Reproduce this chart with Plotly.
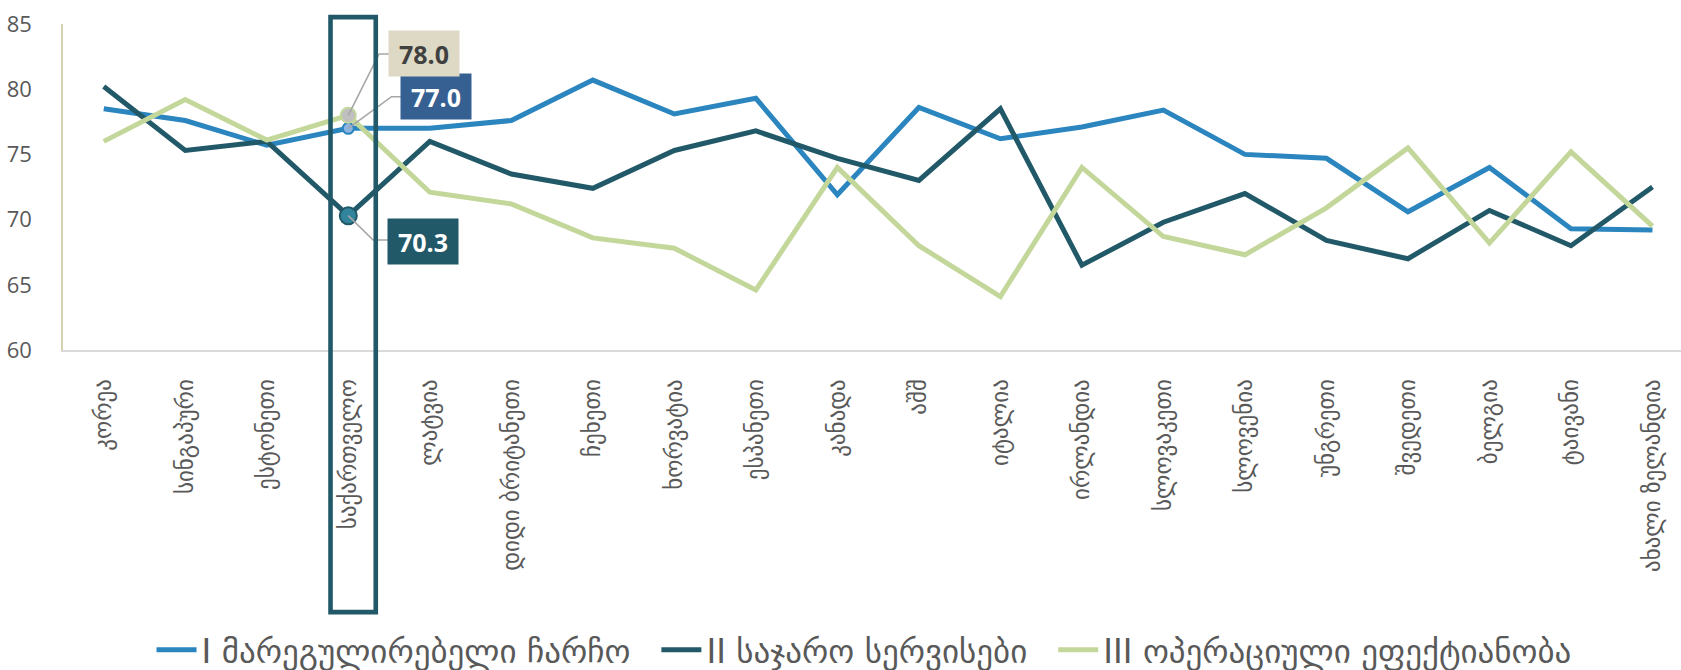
import plotly.graph_objects as go

# ---- data ----
categories = ["კორეა", "სინგაპური", "ესტონეთი", "საქართველო", "ლატვია",
              "დიდი ბრიტანეთი", "ჩეხეთი", "ხორვატია", "ესპანეთი", "კანადა",
              "აშშ", "იტალია", "ირლანდია", "სლოვაკეთი", "სლოვენია",
              "უნგრეთი", "შვედეთი", "ბელგია", "ტაივანი", "ახალი ზელანდია"]

series_names = ["I მარეგულირებელი ჩარჩო", "II საჯარო სერვისები", "III ოპერაციული ეფექტიანობა"]

regulatory = [78.5, 77.6, 75.7, 77.0, 77.0, 77.6, 80.7, 78.1, 79.3, 71.9,
              78.6, 76.2, 77.1, 78.4, 75.0, 74.7, 70.6, 74.0, 69.3, 69.2]
public_services = [80.2, 75.3, 76.0, 70.3, 76.0, 73.5, 72.4, 75.3, 76.8, 74.7,
                   73.0, 78.5, 66.5, 69.8, 72.0, 68.4, 67.0, 70.7, 68.0, 72.5]
operational = [76.0, 79.2, 76.1, 78.0, 72.1, 71.2, 68.6, 67.8, 64.6, 74.0,
               68.0, 64.1, 74.0, 68.7, 67.3, 70.9, 75.5, 68.2, 75.2, 69.5]

y_ticks = [60, 65, 70, 75, 80, 85]
highlight_index = 3

# ---- style ----
line_colors = ["#2B85BE", "#215968", "#C4D79B"]
marker_fill = ["#8DB4E2", "#31849B", "#BFBFBF"]
marker_size = [11, 17, 15]
label_bg = ["#376092", "#215968", "#DDD9C4"]
label_fg = ["#FFFFFF", "#FFFFFF", "#404040"]
# pixel offsets of label box centre from the point, and leader path (x right, y up)
label_shift = [(88.2, 31.6), (74.8, -26.3), (76.2, 61.5)]
leader = [[(0, 0), (43.2, 31.6), (55, 31.6)],
          [(0, 0), (24.8, -24.3), (42, -24.3)],
          [(0, 0), (30.8, 61.3), (42.5, 61.3)]]
legend_pad = "\u00a0\u00a0"

W, H = 1681, 670
ML, MR, MT, MB = 63, 0, 24, 320
x_min = -0.5
x_max = 19.35

fonts = "Open Sans, DejaVu Sans, sans-serif"
geo_font = "DejaVu Sans, Open Sans, sans-serif"
tick_color = "#595959"

fig = go.Figure()
all_series = [regulatory, public_services, operational]
for k, (name, vals, col) in enumerate(zip(series_names, all_series, line_colors)):
    label = name + (legend_pad if k < len(series_names) - 1 else "")
    fig.add_trace(go.Scatter(x=categories, y=vals, name=label, mode="lines",
                             line=dict(color=col, width=5)))

# highlighted markers
for i, (vals, col) in enumerate(zip(all_series, line_colors)):
    fig.add_trace(go.Scatter(x=[categories[highlight_index]], y=[vals[highlight_index]],
                             mode="markers", showlegend=False, hoverinfo="skip",
                             marker=dict(size=marker_size[i], color=marker_fill[i],
                                         line=dict(color=col, width=2))))

annotations = []
shapes = []
for i, vals in enumerate(all_series):
    v = vals[highlight_index]
    dx, dy = label_shift[i]
    annotations.append(dict(x=categories[highlight_index], y=v, xref="x", yref="y",
                            text=f"<b>{v:.1f}</b>", showarrow=False,
                            xshift=dx, yshift=dy, width=68, height=43,
                            bgcolor=label_bg[i],
                            font=dict(family="Open Sans", size=25, color=label_fg[i])))
    path = "M" + " L".join(f"{px},{py}" for px, py in leader[i])
    shapes.append(dict(type="path", path=path, xref="x", yref="y",
                       xsizemode="pixel", ysizemode="pixel",
                       xanchor=highlight_index, yanchor=v,
                       line=dict(color="#A6A6A6", width=1.6), layer="above"))

# highlight rectangle around the selected category (paper coords from axis mapping)
def cat_to_paper(c):
    return (c - x_min) / (x_max - x_min)

shapes.append(dict(type="rect", xref="paper", yref="paper",
                   x0=cat_to_paper(highlight_index - 0.218),
                   x1=cat_to_paper(highlight_index + 0.337),
                   y0=-0.804, y1=1.021,
                   line=dict(color="#215968", width=4.6), fillcolor="rgba(0,0,0,0)",
                   layer="above"))

fig.update_layout(
    width=W, height=H,
    margin=dict(l=ML, r=MR, t=MT, b=MB, pad=0, autoexpand=False),
    paper_bgcolor="white", plot_bgcolor="white",
    font=dict(family=fonts, color=tick_color),
    showlegend=True,
    legend=dict(orientation="h", xref="container", yref="container",
                x=0.514, xanchor="center", y=0.03, yanchor="middle",
                font=dict(family=geo_font, size=33, color=tick_color),
                itemwidth=40, bgcolor="rgba(0,0,0,0)"),
    annotations=annotations,
    shapes=shapes,
    xaxis=dict(type="category", range=[x_min, x_max], showgrid=False,
               showline=True, linecolor="#D9D9D9", linewidth=2,
               ticks="", tickangle=-90, ticklabelstandoff=18, automargin=False,
               tickfont=dict(family=geo_font, size=23, color=tick_color),
               zeroline=False),
    yaxis=dict(range=[60, 85], tickvals=y_ticks, showgrid=False,
               showline=True, linecolor="#D6D1B1", linewidth=1.6,
               ticks="", ticklabelstandoff=25, automargin=False,
               tickfont=dict(family="Open Sans", size=22, color=tick_color),
               zeroline=False),
)

fig.write_html("out.html", config={"displayModeBar": False},
               post_script="document.body.style.margin='0';document.body.style.overflow='hidden';")
